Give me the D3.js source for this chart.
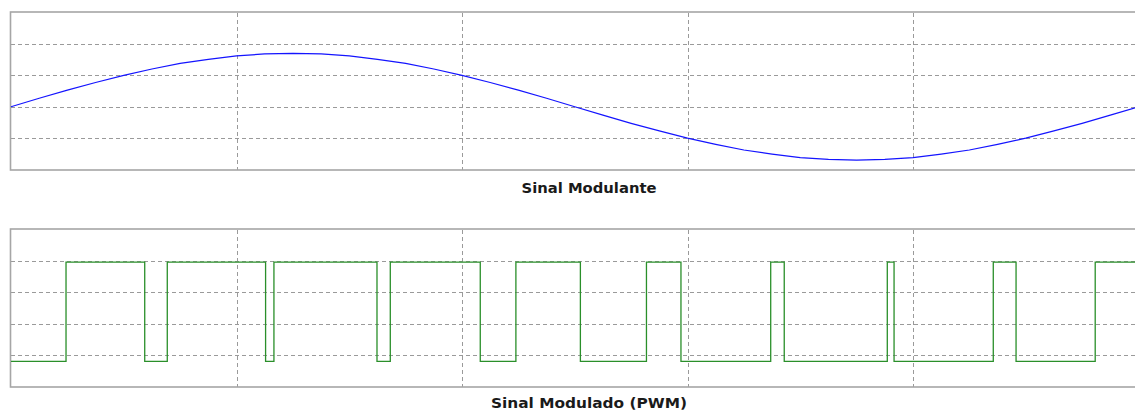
<!DOCTYPE html>
<html><head><meta charset="utf-8">
<script src="https://cdn.jsdelivr.net/npm/d3@7"></script>
<style>body{margin:0;background:#fff}svg{display:block}</style>
</head><body>
<svg id="c" width="1135" height="412"></svg>
<script>
// ---- data ----
const titles = ["Sinal Modulante", "Sinal Modulado (PWM)"];
const xTicks = [0, 10, 20, 30, 40, 50];
const sineTicks = [-1, 0, 1, 2];
const pwmTicks = [0, 1, 2, 3];
// modulating signal, sampled every 1.25 time units
const sineTimes = [0,1.25,2.5,3.75,5,6.25,7.5,8.75,10,11.25,12.5,13.75,15,16.25,17.5,18.75,20,21.25,22.5,23.75,25,26.25,27.5,28.75,30,31.25,32.5,33.75,35,36.25,37.5,38.75,40,41.25,42.5,43.75,45,46.25,47.5,48.75,50];
const sineValues = [0,0.27,0.53,0.77,1.00,1.20,1.38,1.51,1.62,1.68,1.70,1.68,1.62,1.51,1.38,1.20,1.00,0.77,0.53,0.27,0,-0.27,-0.53,-0.77,-1.00,-1.20,-1.38,-1.51,-1.62,-1.68,-1.70,-1.68,-1.62,-1.51,-1.38,-1.20,-1.00,-0.77,-0.53,-0.27,0];
// PWM signal: switching instants and level after each instant
const pwmTimes = [0,2.44,5.93,6.93,11.29,11.66,16.23,16.82,20.81,22.39,25.25,28.18,29.71,33.69,34.29,38.86,39.16,43.56,44.57,48.08,49.85];
const pwmValues = [-0.2,2.96,-0.2,2.96,-0.2,2.96,-0.2,2.96,-0.2,2.96,-0.2,2.96,-0.2,2.96,-0.2,2.96,-0.2,2.96,-0.2,2.96,2.96];

// ---- layout ----
const svg = d3.select("#c");
const left = 11, right = 1138.5;
const x = d3.scaleLinear().domain([0, 50]).range([left, right]);

function panel(top, yDomain, yTicks, title, titleY, titleW) {
  const bottom = top + 157;
  const y = d3.scaleLinear().domain(yDomain).range([bottom, top]);
  const g = svg.append("g");
  // grid
  g.append("g").selectAll("line.h").data(yTicks).join("line")
    .attr("x1", left).attr("x2", right)
    .attr("y1", d => Math.round(y(d)) + 0.5).attr("y2", d => Math.round(y(d)) + 0.5)
    .attr("stroke", "#9a9a9a").attr("stroke-dasharray", "4,3").attr("shape-rendering", "crispEdges");
  g.append("g").selectAll("line.v").data(xTicks.slice(1, -1)).join("line")
    .attr("x1", d => Math.round(x(d)) + 0.5).attr("x2", d => Math.round(x(d)) + 0.5)
    .attr("y1", top).attr("y2", bottom)
    .attr("stroke", "#9a9a9a").attr("stroke-dasharray", "4,3").attr("shape-rendering", "crispEdges");
  // frame
  g.append("rect").attr("x", left - 0.5).attr("y", top - 0.5)
    .attr("width", right - left + 1).attr("height", bottom - top + 1)
    .attr("fill", "none").attr("stroke", "#a6a6a6").attr("stroke-width", 1.6);
  // title
  svg.append("text").attr("x", 589).attr("y", titleY).attr("text-anchor", "middle")
    .attr("font-family", "DejaVu Sans, Verdana, sans-serif").attr("font-weight", "bold")
    .attr("font-size", 13.5).attr("fill", "#1a1a1a")
    .attr("textLength", titleW).attr("lengthAdjust", "spacingAndGlyphs").text(title);
  return {g, y};
}

const p1 = panel(12.5, [-2, 3], sineTicks, titles[0], 193.3, 135);
p1.g.append("path")
  .datum(sineTimes.map((t, i) => [t, sineValues[i]]))
  .attr("fill", "none").attr("stroke", "#1414ff").attr("stroke-width", 1.2)
  .attr("d", d3.line().x(d => x(d[0])).y(d => p1.y(d[1])));

const p2 = panel(229.5, [-1, 4], pwmTicks, titles[1], 407.5, 196);
p2.g.append("path")
  .datum(pwmTimes.map((t, i) => [t, pwmValues[i]]))
  .attr("fill", "none").attr("stroke", "#2a8f2a").attr("stroke-width", 1.3)
  .attr("d", d3.line().curve(d3.curveStepAfter).x(d => x(d[0])).y(d => p2.y(d[1])));
</script>
</body></html>
